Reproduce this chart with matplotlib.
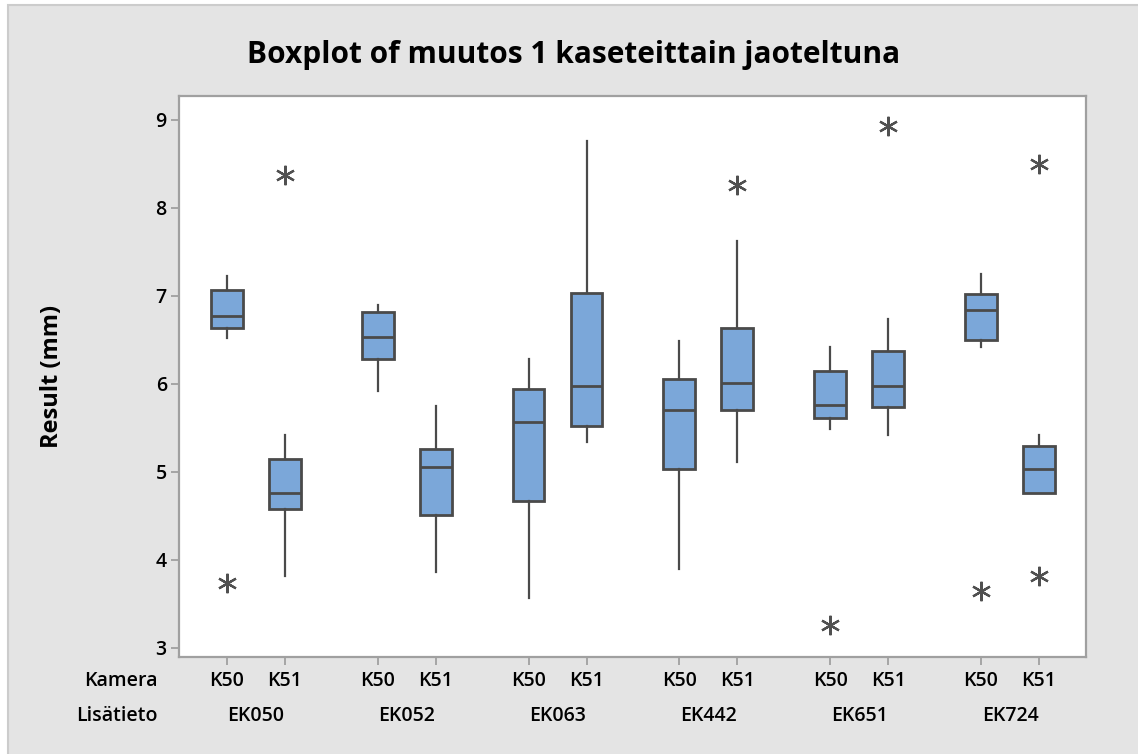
import matplotlib
matplotlib.use("Agg")
import matplotlib.pyplot as plt
from matplotlib.patches import Rectangle
from matplotlib import transforms

plt.rcParams['font.family'] = ['Open Sans', 'DejaVu Sans']

# --- data: one box per (Lisätieto, Kamera) pair ---
groups = ["EK050", "EK052", "EK063", "EK442", "EK651", "EK724"]
cameras = ["K50", "K51"]

whishi = [7.22, 5.42, 6.89, 5.75, 6.28, 8.76, 6.48, 7.62, 6.42, 6.73, 7.25, 5.42]
q3 = [7.06, 5.14, 6.82, 5.26, 5.94, 7.03, 6.05, 6.63, 6.14, 6.37, 7.02, 5.29]
med = [6.77, 4.76, 6.53, 5.05, 5.56, 5.97, 5.70, 6.01, 5.76, 5.97, 6.84, 5.03]
q1 = [6.63, 4.58, 6.28, 4.51, 4.67, 5.52, 5.03, 5.70, 5.61, 5.74, 6.50, 4.76]
whislo = [6.52, 3.82, 5.92, 3.86, 3.57, 5.34, 3.89, 5.11, 5.49, 5.42, 6.42, 4.76]
fliers = [[3.74], [8.37], [], [], [], [], [], [8.26], [3.26], [8.93], [3.64], [8.50, 3.82]]

# positions: boxes of one group sit 1 apart, groups 2.6 apart
gap = 2.6
pos = [g * gap + c for g in range(len(groups)) for c in range(len(cameras))]

stats = []
for i in range(len(pos)):
    stats.append(dict(med=med[i], q1=q1[i], q3=q3[i],
                      whislo=whislo[i], whishi=whishi[i], fliers=fliers[i]))

bg = "#e4e4e4"
edge = "#4a4a4a"
spine_c = "#a0a0a0"

fig = plt.figure(figsize=(11.38, 7.54), dpi=100, facecolor="white")
# grey panel with a thin frame on the top and left
fig.patches.append(Rectangle((8 / 1138, -0.1), 1.2, 1.1 - 5 / 754,
                             transform=fig.transFigure, facecolor=bg,
                             edgecolor="#cccccc", linewidth=1.5, zorder=-10))

ax = fig.add_axes([179.3 / 1138, 1 - 657 / 754, (1086 - 179.3) / 1138, (657 - 96.3) / 754])
ax.set_facecolor("white")

ax.bxp(stats, positions=pos, widths=0.55, patch_artist=True, showcaps=False,
       boxprops=dict(facecolor="#7ba7d9", edgecolor=edge, linewidth=2.0),
       medianprops=dict(color=edge, linewidth=2.0),
       whiskerprops=dict(color=edge, linewidth=1.6),
       flierprops=dict(marker=(6, 2, 0), markersize=14, markeredgecolor="#505050",
                       markeredgewidth=1.6, linestyle="none"))

ax.set_xlim(-0.82, pos[-1] + 0.81)
ax.set_ylim(2.895, 9.265)
ax.set_yticks([3, 4, 5, 6, 7, 8, 9])
ax.set_xticks(pos)
ax.set_xticklabels([])

for s in ax.spines.values():
    s.set_color(spine_c)
    s.set_linewidth(1.6)
ax.tick_params(axis="x", length=6, width=1.3, color=spine_c)
ax.tick_params(axis="y", length=6, width=1.3, color=spine_c, pad=3,
               labelsize=14)
for lab in ax.get_yticklabels():
    lab.set_fontweight("semibold")

# two-level category axis: Kamera row and Lisätieto row
trans = transforms.blended_transform_factory(ax.transData, ax.transAxes)
for i, p in enumerate(pos):
    ax.annotate(cameras[i % 2], xy=(p, 0), xycoords=trans, xytext=(0, -17.3),
                textcoords="offset points", ha="center", va="center",
                fontsize=14, fontweight="semibold")
for g, name in enumerate(groups):
    ax.annotate(name, xy=(g * gap + 0.5, 0), xycoords=trans, xytext=(0, -42.5),
                textcoords="offset points", ha="center", va="center",
                fontsize=14, fontweight="semibold")
fig.text(158 / 1138, 1 - 681 / 754, "Kamera", ha="right", va="center",
         fontsize=14, fontweight="semibold")
fig.text(158 / 1138, 1 - 716 / 754, "Lisätieto", ha="right", va="center",
         fontsize=14, fontweight="semibold")

fig.text(52 / 1138, 1 - 376 / 754, "Result (mm)", rotation=90, ha="center",
         va="center", fontsize=17, fontweight="bold")
fig.text(574 / 1138, 1 - 55 / 754, "Boxplot of muutos 1 kaseteittain jaoteltuna",
         ha="center", va="center", fontsize=21.5, fontweight="bold")

fig.savefig("out.png", dpi=100, facecolor=fig.get_facecolor())
